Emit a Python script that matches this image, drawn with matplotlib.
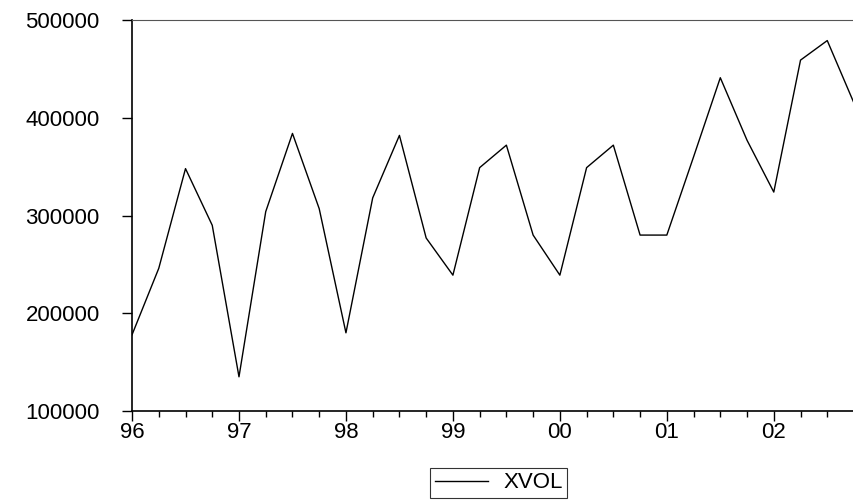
import matplotlib.pyplot as plt
import numpy as np

# quarterly observations 1996Q1 - 2002Q4
years = ['96', '97', '98', '99', '00', '01', '02']
xvol = [178000, 246000, 348000, 290000,
        135000, 304000, 384000, 307000,
        180000, 318000, 382000, 277000,
        239000, 349000, 372000, 280000,
        239000, 349000, 372000, 280000,
        280000, 360000, 441000, 377000,
        324000, 459000, 479000, 415000]

plt.rcParams['font.family'] = ['Liberation Sans', 'DejaVu Sans']

t = 1996 + np.arange(len(xvol)) / 4.0

fig = plt.figure(figsize=(8.54, 5.01), dpi=100)
ax = fig.add_axes([0.1546, 0.1796, 0.8454, 0.7804])
line, = ax.plot(t, xvol, color='black', lw=1.0, label='XVOL')

ax.set_xlim(t[0], t[-1])
ax.set_ylim(100000, 500000)
ax.set_yticks([100000, 200000, 300000, 400000, 500000])
ax.set_yticklabels(['100000', '200000', '300000', '400000', '500000'])
ax.set_xticks([1996 + i for i in range(len(years))])
ax.set_xticklabels(years)
ax.set_xticks(t, minor=True)

ax.tick_params(axis='y', which='major', direction='out', length=7.2, width=1,
               labelsize=16, pad=16)
ax.tick_params(axis='x', which='major', direction='out', length=7.2, width=1,
               labelsize=16, pad=0.5)
ax.tick_params(axis='x', which='minor', direction='out', length=4.3, width=1)
ax.tick_params(axis='y', which='minor', left=False)
for lbl in ax.get_yticklabels():
    lbl.set_y(lbl.get_position()[1])
    lbl.set_verticalalignment('center_baseline')

ax.spines['right'].set_visible(False)
ax.spines['top'].set_color('#555555')
ax.spines['left'].set_linewidth(1.2)
ax.spines['bottom'].set_linewidth(1.2)

leg = fig.legend(handles=[line], loc='center', bbox_to_anchor=(0.584, 0.036),
                 fontsize=16, frameon=True, fancybox=False, handlelength=2.4,
                 borderpad=0.2, handletextpad=0.7, borderaxespad=0)
leg.get_frame().set_edgecolor('black')
leg.get_frame().set_linewidth(0.8)

fig.savefig('out.png', dpi=100)
